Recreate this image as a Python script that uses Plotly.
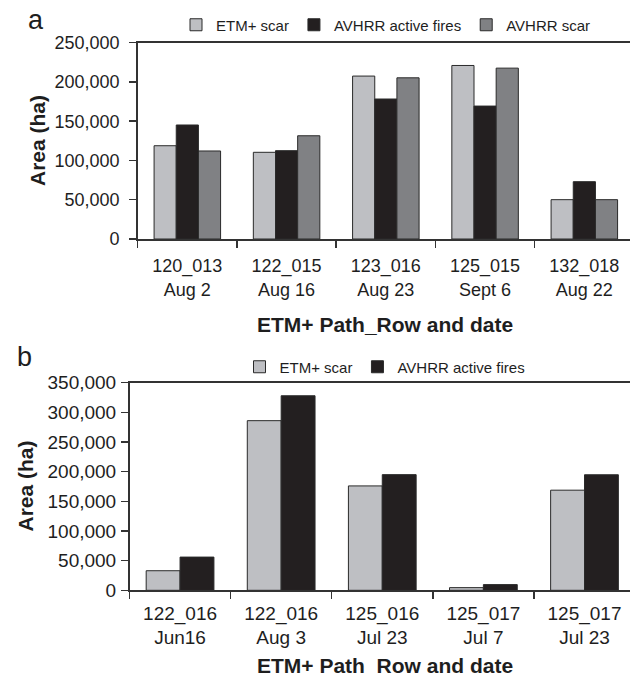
import plotly.graph_objects as go

# ---- data: panel a ----
cats_a = ["120_013<br>Aug 2", "122_015<br>Aug 16", "123_016<br>Aug 23", "125_015<br>Sept 6", "132_018<br>Aug 22"]
etm_scar_a = [118800, 110400, 207500, 221000, 50100]
avhrr_fires_a = [145200, 112500, 178300, 169300, 73000]
avhrr_scar_a = [112100, 131500, 205300, 217600, 50100]

# ---- data: panel b ----  (zero-width space keeps repeated path/rows distinct)
cats_b = ["122_016<br>Jun16", "122_016<br>Aug 3\u200b", "125_016<br>Jul 23", "125_017<br>Jul 7", "125_017<br>Jul 23\u200b"]
etm_scar_b = [33000, 286000, 176000, 4500, 168800]
avhrr_fires_b = [56000, 328000, 195000, 9600, 194800]

names = ["ETM+ scar", "AVHRR active fires", "AVHRR scar"]
c_light = "#bebfc3"
c_dark = "#231f20"
c_mid = "#808184"
edge = dict(color="#2a2a2a", width=1)
FONT = "Liberation Sans, Arial, sans-serif"
TXT = "#1e1e1e"

W, H = 630, 679
fig = go.Figure()

for vals, nm, col in [(etm_scar_a, names[0], c_light), (avhrr_fires_a, names[1], c_dark), (avhrr_scar_a, names[2], c_mid)]:
    fig.add_trace(go.Bar(x=cats_a, y=vals, name=nm, marker=dict(color=col, line=edge),
                         xaxis="x", yaxis="y", legend="legend"))
for vals, nm, col in [(etm_scar_b, names[0], c_light), (avhrr_fires_b, names[1], c_dark)]:
    fig.add_trace(go.Bar(x=cats_b, y=vals, name=nm, marker=dict(color=col, line=edge),
                         xaxis="x2", yaxis="y2", legend="legend2"))

def py(p):  # pixel from top -> paper
    return 1 - p / H

def px(p):
    return p / W

axline = dict(showline=True, linecolor="#333333", linewidth=1.5)
tk = dict(ticks="outside", ticklen=7, tickcolor="#333333", tickwidth=1.5, showgrid=False)

fig.update_layout(
    width=W, height=H,
    margin=dict(l=0, r=0, t=0, b=0),
    paper_bgcolor="white", plot_bgcolor="white",
    font=dict(family=FONT, color=TXT),
    barmode="group", bargap=0.33, bargroupgap=0,
    showlegend=True,
    xaxis=dict(domain=[px(137.7), 1], anchor="y", range=[-0.5, 4.46],
               tickson="boundaries", mirror=True, tickfont=dict(size=18),
               ticklabelstandoff=10, automargin=False, **tk, **axline),
    yaxis=dict(domain=[py(239), py(42.7)], anchor="x", range=[0, 250000], dtick=50000,
               tickformat=",", zeroline=False, tickfont=dict(size=18),
               ticklabelstandoff=6, automargin=False, **tk, **axline),
    xaxis2=dict(domain=[px(129.5), 1], anchor="y2", range=[-0.5, 4.45],
                tickson="boundaries", mirror=True, tickfont=dict(size=19),
                ticklabelstandoff=5, automargin=False, **tk, **axline),
    yaxis2=dict(domain=[py(590.3), py(382.7)], anchor="x2", range=[0, 350000], dtick=50000,
                tickformat=",", zeroline=False, tickfont=dict(size=19),
                ticklabelstandoff=1, automargin=False, **tk, **axline),
    legend=dict(orientation="h", x=px(386), xanchor="center", y=py(25), yanchor="middle",
                itemwidth=30, font=dict(size=15), bgcolor="rgba(0,0,0,0)",
                itemclick=False),
    legend2=dict(orientation="h", x=px(385), xanchor="center", y=py(367), yanchor="middle",
                 itemwidth=30, font=dict(size=15), bgcolor="rgba(0,0,0,0)",
                 itemclick=False),
)

ann = [
    dict(text="a", x=px(36), y=py(20), font=dict(size=27)),
    dict(text="b", x=px(24), y=py(357), font=dict(size=27)),
    dict(text="<b>ETM+ Path_Row and date</b>", x=px(385), y=py(324), font=dict(size=21)),
    dict(text="<b>ETM+ Path\u00a0\u00a0Row and date</b>", x=px(385), y=py(665), font=dict(size=21)),
    dict(text="<b>Area (ha)</b>", x=px(37), y=py(141), textangle=-90, font=dict(size=21)),
    dict(text="<b>Area (ha)</b>", x=px(25), y=py(486.5), textangle=-90, font=dict(size=21)),
]
for a in ann:
    a.update(xref="paper", yref="paper", xanchor="center", yanchor="middle", showarrow=False)
    a["font"].update(family=FONT, color=TXT)
fig.update_layout(annotations=ann)

fig.write_html("out.html",
               config={"displayModeBar": False, "staticPlot": True},
               post_script="document.body.style.margin='0px';document.body.style.overflow='hidden';")
